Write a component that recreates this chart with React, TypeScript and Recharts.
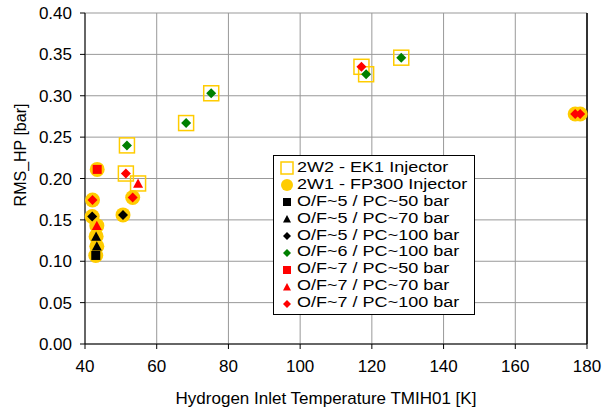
import React from 'react';
import {
  ScatterChart,
  Scatter,
  XAxis,
  YAxis,
  CartesianGrid,
  Legend,
  ReferenceLine,
} from 'recharts';

const FONT = '"Liberation Sans", Arial, sans-serif';
const YELLOW = '#FFCC00';

type Pt = { x: number; y: number; inj: 'EK1' | 'FP300' };

// Temperatures [K] and RMS values [bar]
const OF5_PC50: Pt[] = [{ x: 43.0, y: 0.107, inj: 'FP300' }];
const OF5_PC70: Pt[] = [
  { x: 43.1, y: 0.13, inj: 'FP300' },
  { x: 43.3, y: 0.118, inj: 'FP300' },
];
const OF5_PC100: Pt[] = [
  { x: 42.0, y: 0.154, inj: 'FP300' },
  { x: 50.6, y: 0.156, inj: 'FP300' },
];
const OF6_PC100: Pt[] = [
  { x: 51.7, y: 0.24, inj: 'EK1' },
  { x: 68.2, y: 0.267, inj: 'EK1' },
  { x: 75.2, y: 0.303, inj: 'EK1' },
  { x: 118.4, y: 0.326, inj: 'EK1' },
  { x: 128.2, y: 0.346, inj: 'EK1' },
];
const OF7_PC50: Pt[] = [{ x: 43.4, y: 0.211, inj: 'FP300' }];
const OF7_PC70: Pt[] = [
  { x: 43.3, y: 0.143, inj: 'FP300' },
  { x: 54.8, y: 0.194, inj: 'EK1' },
];
const OF7_PC100: Pt[] = [
  { x: 42.1, y: 0.174, inj: 'FP300' },
  { x: 53.3, y: 0.177, inj: 'FP300' },
  { x: 51.4, y: 0.206, inj: 'EK1' },
  { x: 117.1, y: 0.335, inj: 'EK1' },
  { x: 176.7, y: 0.278, inj: 'FP300' },
  { x: 178.1, y: 0.278, inj: 'FP300' },
];

const X_TICKS = [40, 60, 80, 100, 120, 140, 160, 180];
const Y_TICKS = [0, 0.05, 0.1, 0.15, 0.2, 0.25, 0.3, 0.35, 0.4];

type Marker = 'square' | 'triangle' | 'diamond' | 'circle' | 'hollowSquare';

const SERIES: { name: string; data: Pt[]; marker: Marker; color: string }[] = [
  { name: 'O/F~5 / PC~50 bar', data: OF5_PC50, marker: 'square', color: '#000000' },
  { name: 'O/F~5 / PC~70 bar', data: OF5_PC70, marker: 'triangle', color: '#000000' },
  { name: 'O/F~5 / PC~100 bar', data: OF5_PC100, marker: 'diamond', color: '#000000' },
  { name: 'O/F~6 / PC~100 bar', data: OF6_PC100, marker: 'diamond', color: '#008000' },
  { name: 'O/F~7 / PC~50 bar', data: OF7_PC50, marker: 'square', color: '#FF0000' },
  { name: 'O/F~7 / PC~70 bar', data: OF7_PC70, marker: 'triangle', color: '#FF0000' },
  { name: 'O/F~7 / PC~100 bar', data: OF7_PC100, marker: 'diamond', color: '#FF0000' },
];

const allPoints = SERIES.flatMap((s) => s.data);
const ek1Points = allPoints.filter((p) => p.inj === 'EK1');
const fp300Points = allPoints.filter((p) => p.inj === 'FP300');

function drawMarker(marker: Marker, color: string, cx: number, cy: number, s: number) {
  const h = s / 2;
  switch (marker) {
    case 'circle':
      return <circle cx={cx} cy={cy} r={h} fill={color} />;
    case 'hollowSquare':
      return (
        <rect x={cx - h} y={cy - h} width={s} height={s} fill="none" stroke={color} strokeWidth={1.5} />
      );
    case 'square':
      return <rect x={cx - h} y={cy - h} width={s} height={s} fill={color} />;
    case 'triangle':
      return <polygon points={`${cx},${cy - h} ${cx + h},${cy + h * 0.85} ${cx - h},${cy + h * 0.85}`} fill={color} />;
    default:
      return <polygon points={`${cx},${cy - h} ${cx + h},${cy} ${cx},${cy + h} ${cx - h},${cy}`} fill={color} />;
  }
}

const markerSize = (m: Marker) => (m === 'square' ? 9 : 10);

const LEGEND_ROWS: { name: string; marker: Marker; color: string; size: number }[] = [
  { name: '2W2 - EK1 Injector', marker: 'hollowSquare', color: YELLOW, size: 12 },
  { name: '2W1 - FP300 Injector', marker: 'circle', color: YELLOW, size: 12 },
  ...SERIES.map((s) => ({ name: s.name, marker: s.marker, color: s.color, size: 8 })),
];

function renderLegend() {
  return (
    <div
      style={{
        border: '1px solid #000',
        background: '#fff',
        padding: '4px 0 2px 0',
        fontFamily: FONT,
        fontSize: 17,
        color: '#000',
        boxSizing: 'border-box',
        width: 202,
      }}
    >
      {LEGEND_ROWS.map((r) => (
        <div key={r.name} style={{ display: 'flex', alignItems: 'center', height: 16.9, whiteSpace: 'nowrap' }}>
          <svg width={23} height={16} style={{ flex: 'none' }}>
            {drawMarker(r.marker, r.color, 13, 8, r.size)}
          </svg>
          <span
            style={{
              display: 'inline-block',
              lineHeight: '16.9px',
              transform: 'scale(1.06, 0.86)',
              transformOrigin: 'left center',
            }}
          >
            {r.name}
          </span>
        </div>
      ))}
    </div>
  );
}

export default function App() {
  return (
    <div style={{ position: 'absolute', left: 0, top: 0 }}>
      <ScatterChart width={603} height={415} margin={{ top: 13, right: 16, bottom: 0, left: 0 }}>
        <CartesianGrid stroke="#999" strokeWidth={1} />
        <XAxis
          type="number"
          dataKey="x"
          domain={[40, 180]}
          ticks={X_TICKS}
          height={71}
          tickSize={5}
          tickMargin={11}
          stroke="#000"
          tick={{ fontSize: 17, fill: '#000', fontFamily: FONT }}
          label={{
            content: () => (
              <text x={326} y={404} textAnchor="middle" fontSize={17} fontFamily={FONT} fill="#000">
                Hydrogen Inlet Temperature TMIH01 [K]
              </text>
            ),
          }}
        />
        <YAxis
          type="number"
          dataKey="y"
          domain={[0, 0.4]}
          ticks={Y_TICKS}
          width={85}
          tickSize={5}
          tickMargin={8}
          stroke="#000"
          tickFormatter={(v: number) => v.toFixed(2)}
          tick={{ fontSize: 17, fill: '#000', fontFamily: FONT }}
          label={{
            content: () => (
              <text
                transform="translate(26,155) rotate(-90)"
                textAnchor="middle"
                fontSize={16}
                fontFamily={FONT}
                fill="#000"
              >
                RMS_HP [bar]
              </text>
            ),
          }}
        />
        <ReferenceLine x={180} stroke="#000" strokeWidth={1.5} />
        <Legend
          layout="vertical"
          align="center"
          verticalAlign="middle"
          content={renderLegend}
          wrapperStyle={{ left: 273, top: 155, width: 202 }}
        />
        <Scatter
          name="2W2 - EK1 Injector"
          data={ek1Points}
          isAnimationActive={false}
          shape={(p: any) => drawMarker('hollowSquare', YELLOW, p.cx, p.cy, 15)}
        />
        <Scatter
          name="2W1 - FP300 Injector"
          data={fp300Points}
          isAnimationActive={false}
          shape={(p: any) => drawMarker('circle', YELLOW, p.cx, p.cy, 15)}
        />
        {SERIES.map((s) => (
          <Scatter
            key={s.name}
            name={s.name}
            data={s.data}
            isAnimationActive={false}
            shape={(p: any) => drawMarker(s.marker, s.color, p.cx, p.cy, markerSize(s.marker))}
          />
        ))}
      </ScatterChart>
    </div>
  );
}
